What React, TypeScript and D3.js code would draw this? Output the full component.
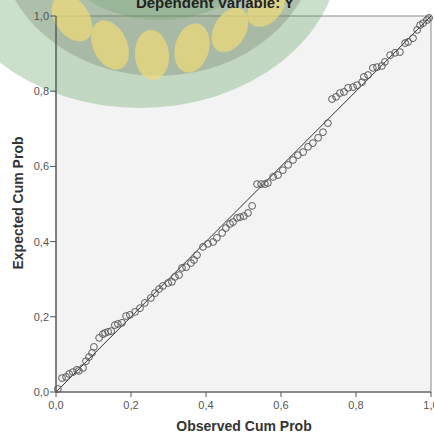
import React from "react";
import * as d3 from "d3";

const observed: number[] = [
  0.005, 0.016, 0.027, 0.035, 0.045, 0.056, 0.061, 0.072, 0.080, 0.088,
  0.096, 0.101, 0.115, 0.125, 0.131, 0.139, 0.147, 0.157, 0.165, 0.176,
  0.187, 0.197, 0.211, 0.224, 0.237, 0.253, 0.264, 0.275, 0.285, 0.299,
  0.309, 0.317, 0.328, 0.336, 0.347, 0.360, 0.368, 0.376, 0.392, 0.405,
  0.419, 0.429, 0.443, 0.453, 0.464, 0.472, 0.483, 0.491, 0.501, 0.512,
  0.523, 0.536, 0.547, 0.557, 0.565, 0.579, 0.592, 0.605, 0.619, 0.632,
  0.645, 0.659, 0.672, 0.685, 0.699, 0.712, 0.725, 0.736, 0.747, 0.757,
  0.768, 0.779, 0.792, 0.803, 0.816, 0.821, 0.832, 0.845, 0.856, 0.869,
  0.877, 0.891, 0.904, 0.917, 0.931, 0.939, 0.952, 0.963, 0.971, 0.979,
  0.989, 0.995,
];

const expected: number[] = [
  0.008, 0.037, 0.040, 0.048, 0.053, 0.059, 0.056, 0.064, 0.082, 0.093,
  0.104, 0.120, 0.144, 0.154, 0.157, 0.160, 0.162, 0.178, 0.181, 0.184,
  0.202, 0.205, 0.213, 0.223, 0.237, 0.250, 0.263, 0.274, 0.282, 0.290,
  0.293, 0.306, 0.311, 0.330, 0.332, 0.343, 0.351, 0.364, 0.386, 0.394,
  0.399, 0.410, 0.423, 0.436, 0.447, 0.452, 0.463, 0.465, 0.468, 0.476,
  0.495, 0.553, 0.553, 0.553, 0.556, 0.572, 0.577, 0.590, 0.604, 0.617,
  0.630, 0.638, 0.652, 0.662, 0.676, 0.691, 0.715, 0.779, 0.785, 0.795,
  0.798, 0.809, 0.811, 0.816, 0.824, 0.838, 0.843, 0.862, 0.864, 0.867,
  0.878, 0.896, 0.902, 0.904, 0.928, 0.931, 0.941, 0.963, 0.976, 0.981,
  0.989, 0.995,
];

const tickValues: number[] = [0, 0.2, 0.4, 0.6, 0.8, 1.0];
const tickLabels: string[] = ["0,0", "0,2", "0,4", "0,6", "0,8", "1,0"];
const title = "Dependent Variable: Y";
const xTitle = "Observed Cum Prob";
const yTitle = "Expected Cum Prob";

const W = 434;
const H = 435;
const left = 56;
const right = 431;
const top = 16;
const bottom = 392;

export default function App() {
  const x = d3.scaleLinear().domain([0, 1]).range([left, right]);
  const y = d3.scaleLinear().domain([0, 1]).range([bottom, top]);
  const line = d3.line<[number, number]>().x((d) => x(d[0])).y((d) => y(d[1]));
  const font = "Arial, 'Liberation Sans', sans-serif";

  const drops = [
    { cx: 72, cy: 18, rx: 17, ry: 26, rot: -35 },
    { cx: 110, cy: 45, rx: 17, ry: 26, rot: -25 },
    { cx: 152, cy: 55, rx: 17, ry: 25, rot: -5 },
    { cx: 192, cy: 48, rx: 17, ry: 25, rot: 15 },
    { cx: 230, cy: 30, rx: 16, ry: 24, rot: 30 },
    { cx: 266, cy: 8, rx: 15, ry: 22, rot: 45 },
  ];

  return (
    <svg
      width={W}
      height={H}
      style={{ position: "absolute", left: 0, top: 0, background: "#fff" }}
    >
      <rect x={left} y={top} width={right - left} height={bottom - top} fill="#f3f3f3" stroke="#8a8a8a" strokeWidth={1} />

      {/* watermark */}
      <g>
        <ellipse cx={140} cy={-50} rx={200} ry={158} fill="#5a9e5a" opacity={0.32} />
        <ellipse cx={158} cy={-62} rx={160} ry={138} fill="#6e7566" opacity={0.3} />
        <ellipse cx={160} cy={-80} rx={120} ry={100} fill="#5a9e5a" opacity={0.25} />
        {drops.map((d, i) => (
          <ellipse
            key={i}
            cx={d.cx}
            cy={d.cy}
            rx={d.rx}
            ry={d.ry}
            transform={`rotate(${d.rot} ${d.cx} ${d.cy})`}
            fill="#f0dc78"
            opacity={0.7}
          />
        ))}
      </g>

      {/* reference line */}
      <path d={line([[0, 0], [1, 1]]) || ""} stroke="#333" strokeWidth={1} fill="none" />

      {/* points */}
      {observed.map((o, i) => (
        <circle key={i} cx={x(o)} cy={y(expected[i])} r={3.4} fill="none" stroke="#5a5a5a" strokeWidth={1} />
      ))}

      {/* axes */}
      <line x1={left} x2={left} y1={top} y2={bottom} stroke="#555" strokeWidth={1.2} />
      <line x1={left} x2={right} y1={bottom} y2={bottom} stroke="#555" strokeWidth={1.2} />

      {tickValues.map((v, i) => (
        <g key={"x" + i}>
          <line x1={x(v)} x2={x(v)} y1={bottom} y2={bottom + 5} stroke="#555" />
          <text x={x(v)} y={bottom + 17} textAnchor="middle" fontSize={11} fill="#555" fontFamily={font}>
            {tickLabels[i]}
          </text>
        </g>
      ))}
      {tickValues.map((v, i) => (
        <g key={"y" + i}>
          <line x1={left - 6} x2={left} y1={y(v)} y2={y(v)} stroke="#555" />
          <text x={left - 7} y={y(v) + 4} textAnchor="end" fontSize={11} fill="#555" fontFamily={font}>
            {tickLabels[i]}
          </text>
        </g>
      ))}

      <text x={244} y={431} textAnchor="middle" fontSize={14} fontWeight="bold" fill="#333" fontFamily={font}>
        {xTitle}
      </text>
      <text
        transform={`translate(23, 203) rotate(-90)`}
        textAnchor="middle"
        fontSize={14}
        fontWeight="bold"
        fill="#333"
        fontFamily={font}
      >
        {yTitle}
      </text>
      <text x={215} y={8} textAnchor="middle" fontSize={15} fontWeight="bold" fill="#222" fontFamily={font}>
        {title}
      </text>
    </svg>
  );
}
